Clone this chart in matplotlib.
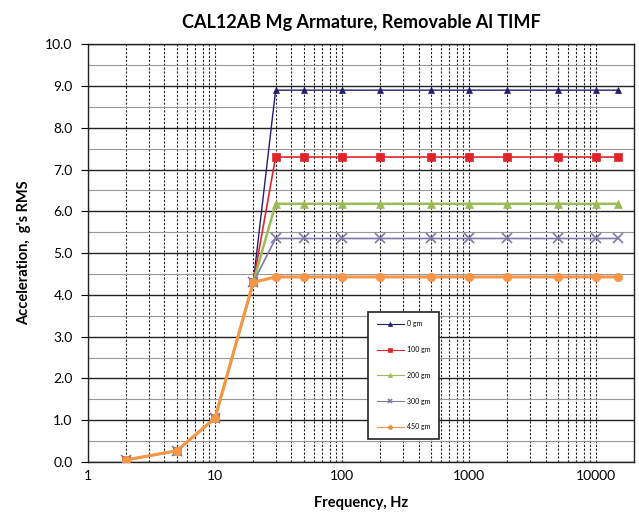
import matplotlib
matplotlib.use("Agg")
import matplotlib.pyplot as plt
from matplotlib.ticker import FixedLocator, NullFormatter, FuncFormatter, MultipleLocator

plt.rcParams['font.family'] = ['Lato', 'DejaVu Sans']

freq = [2, 5, 10, 20, 30, 50, 100, 200, 500, 1000, 2000, 5000, 10000, 15000]
base = [0.05, 0.27, 1.05, 4.3]
plateau = {"0 gm": 8.9, "100 gm": 7.3, "200 gm": 6.18, "300 gm": 5.35, "450 gm": 4.43}
labels = ["0 gm", "100 gm", "200 gm", "300 gm", "450 gm"]
colors = ["#1f1f6e", "#e0242a", "#9bbb59", "#8078a8", "#f79646"]
markers = ["^", "s", "^", "x", "o"]
msizes = [5, 6, 6, 7, 6]
lws = [1.0, 1.2, 1.8, 1.2, 2.2]

fig = plt.figure(figsize=(6.39, 5.2), dpi=100)
ax = fig.add_axes([0.1377, 0.1115, 0.855, 0.8035])

for lab, c, m, ms, lw in zip(labels, colors, markers, msizes, lws):
    y = base + [plateau[lab]] * (len(freq) - len(base))
    ax.plot(freq, y, color=c, marker=m, markersize=ms, lw=lw, label=lab,
            markeredgewidth=1.2 if m == "x" else 0.5, zorder=3)

ax.set_xscale("log")
ax.set_xlim(1, 20000)
ax.set_ylim(0, 10)
ax.yaxis.set_major_locator(MultipleLocator(1.0))
ax.yaxis.set_minor_locator(MultipleLocator(0.5))
ax.yaxis.set_major_formatter(FuncFormatter(lambda v, p: f"{v:.1f}"))
ax.xaxis.set_major_locator(FixedLocator([1, 10, 100, 1000, 10000]))
ax.xaxis.set_major_formatter(FuncFormatter(lambda v, p: f"{int(v)}"))
minors = [m * 10**d for d in range(0, 5) for m in range(2, 10) if m * 10**d < 20000]
ax.xaxis.set_minor_locator(FixedLocator(minors))
ax.xaxis.set_minor_formatter(NullFormatter())

ax.grid(which="major", axis="y", color="#222222", lw=1.0)
ax.grid(which="minor", axis="y", color="#999999", lw=0.8)
ax.grid(which="both", axis="x", color="#222222", lw=0.8, ls=(0, (2, 1.5)))
ax.set_axisbelow(True)

ax.tick_params(axis="both", which="both", length=0, labelsize=10, pad=6)
ax.tick_params(axis="y", which="major", length=5, direction="out")
for s in ax.spines.values():
    s.set_color("#222222")
    s.set_linewidth(1.0)

ax.set_title("CAL12AB Mg Armature, Removable Al TIMF", fontsize=13, fontweight="bold", pad=12)
ax.set_xlabel("Frequency, Hz", fontsize=10.5, fontweight="bold", labelpad=10)
ax.set_ylabel("Acceleration,  g's RMS", fontsize=10.5, fontweight="bold", labelpad=10)

leg = ax.legend(loc="upper left", bbox_to_anchor=(0.513, 0.359), fontsize=5, frameon=True,
                fancybox=False, edgecolor="#222222", framealpha=1, labelspacing=2.7,
                handlelength=4, borderpad=1.2, handletextpad=0.4, borderaxespad=0)
leg.get_frame().set_linewidth(1.2)
for h in leg.legend_handles:
    h.set_markersize(3)
    h.set_linewidth(0.8)

fig.savefig("out.png", dpi=100)
